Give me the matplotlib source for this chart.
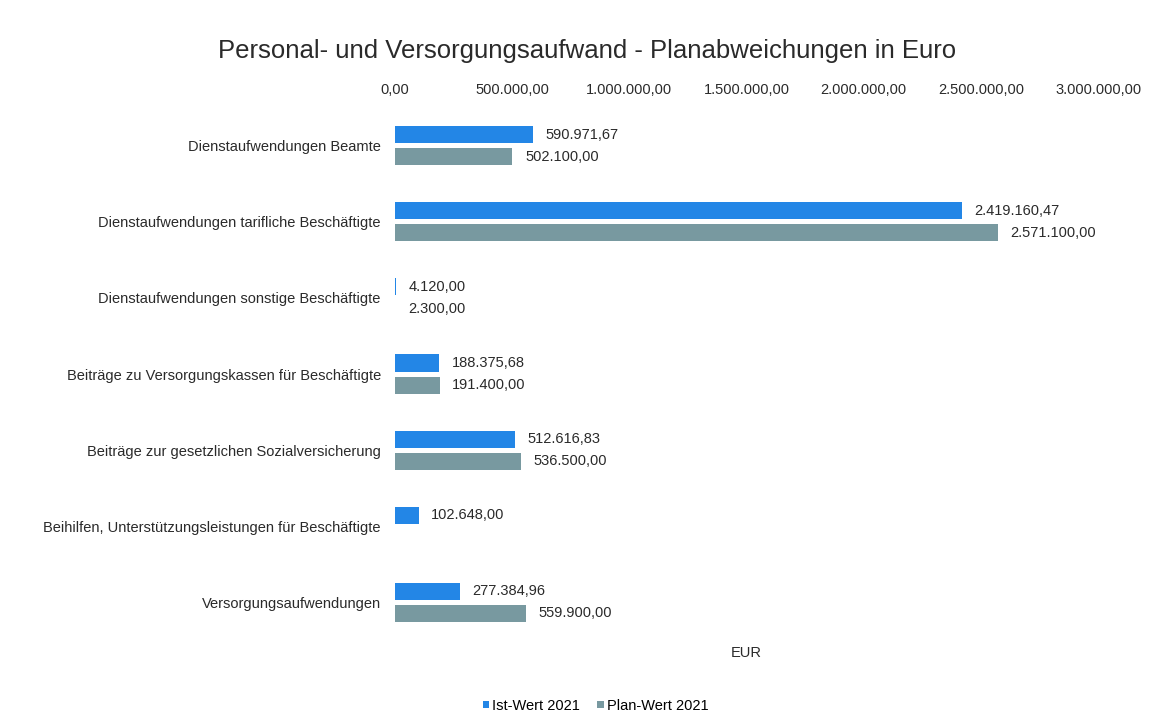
import numpy as np
import matplotlib.pyplot as plt
from matplotlib import rcParams

rcParams['font.family'] = ['Liberation Sans', 'DejaVu Sans']

kategorien = ['Dienstaufwendungen Beamte',
              'Dienstaufwendungen tarifliche Beschäftigte',
              'Dienstaufwendungen sonstige Beschäftigte',
              'Beiträge zu Versorgungskassen für Beschäftigte',
              'Beiträge zur gesetzlichen Sozialversicherung',
              'Beihilfen, Unterstützungsleistungen für Beschäftigte',
              'Versorgungsaufwendungen']
ist_2021 = [590971.67, 2419160.47, 4120.00, 188375.68, 512616.83, 102648.00, 277384.96]
plan_2021 = [502100.00, 2571100.00, 2300.00, 191400.00, 536500.00, np.nan, 559900.00]
x_ticks = [0, 500000, 1000000, 1500000, 2000000, 2500000, 3000000]


def de_fmt(v):
    # 1234567.8 -> 1.234.567,80
    s = '{:,.2f}'.format(v)
    return s.replace(',', 'X').replace('.', ',').replace('X', '.')


fig = plt.figure(figsize=(11.61, 7.18), dpi=100)
ax = fig.add_axes([0.340, 0.108, 0.606, 0.742])

y = np.arange(len(kategorien))
h = 0.225
off = 0.145

b1 = ax.barh(y - off, ist_2021, height=h, color='#2386e6', label='Ist-Wert 2021')
b2 = ax.barh(y + off, plan_2021, height=h, color='#7899a0', label='Plan-Wert 2021')

for bars, vals in ((b1, ist_2021), (b2, plan_2021)):
    for bar, v in zip(bars, vals):
        if np.isnan(v):
            continue
        ax.annotate(de_fmt(v), (v, bar.get_y() + bar.get_height() / 2),
                    xytext=(9, 0), textcoords='offset points',
                    va='center', ha='left', fontsize=10.5, color='#2a2a2a')

ax.set_xlim(0, 3000000)
ax.set_ylim(len(kategorien) - 0.5, -0.5)
ax.set_yticks(y)
ax.set_yticklabels(kategorien, fontsize=10.5, color='#2a2a2a')
ax.set_xticks(x_ticks)
ax.set_xticklabels([de_fmt(t) for t in x_ticks], fontsize=10.5, color='#2a2a2a')
ax.xaxis.tick_top()
ax.tick_params(axis='both', length=0, pad=10)
ax.tick_params(axis='x', pad=8)
for s in ax.spines.values():
    s.set_visible(False)

ax.set_xlabel('EUR', fontsize=10.5, color='#2a2a2a', labelpad=4)

fig.suptitle('Personal- und Versorgungsaufwand - Planabweichungen in Euro',
             x=0.506, y=0.945, fontsize=18.5, color='#2a2a2a')

fig.legend(handles=[b1, b2], loc='lower center', bbox_to_anchor=(0.513, -0.011),
           ncol=2, frameon=False, fontsize=10.5, handlelength=0.45, handleheight=0.45,
           handletextpad=0.2, columnspacing=1.2)

plt.savefig('out.png', dpi=100)
